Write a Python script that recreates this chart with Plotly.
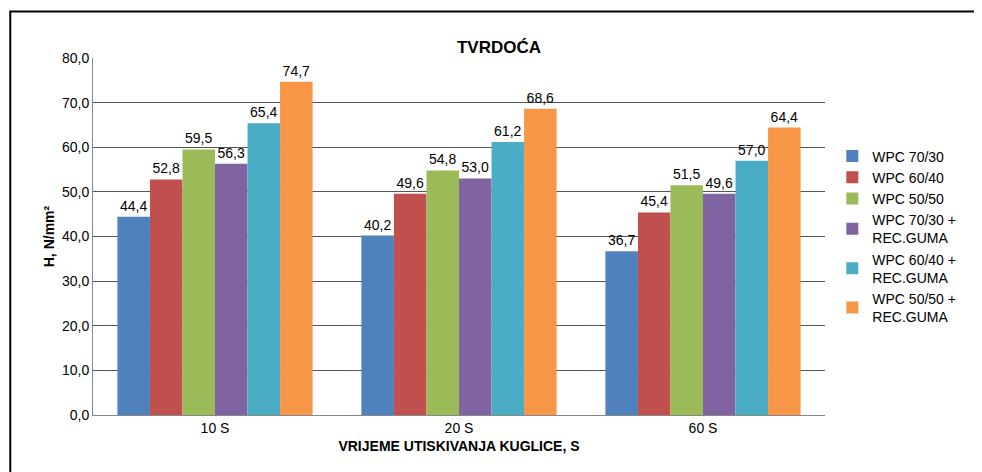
import plotly.graph_objects as go

categories = ["10 S", "20 S", "60 S"]
series_names = ["WPC 70/30", "WPC 60/40", "WPC 50/50",
                "WPC 70/30 +<br>REC.GUMA", "WPC 60/40 +<br>REC.GUMA", "WPC 50/50 +<br>REC.GUMA"]
values = [
    [44.4, 40.2, 36.7],
    [52.8, 49.6, 45.4],
    [59.5, 54.8, 51.5],
    [56.3, 53.0, 49.6],
    [65.4, 61.2, 57.0],
    [74.7, 68.6, 64.4],
]
colors = ["#4F81BD", "#C0504D", "#9BBB59", "#8064A2", "#4BACC6", "#F79646"]
tick_vals = [0, 10, 20, 30, 40, 50, 60, 70, 80]

fig = go.Figure()
for name, vals, c in zip(series_names, values, colors):
    fig.add_trace(go.Bar(
        x=categories, y=vals, name=name, marker=dict(color=c, line=dict(width=0)),
        texttemplate="%{y:.1f}", textposition="outside",
        textfont=dict(family="Liberation Sans", size=14, color="black"),
        cliponaxis=False,
    ))

fig.update_layout(
    width=982, height=472, separators=",.",
    paper_bgcolor="white", plot_bgcolor="white",
    font=dict(family="Liberation Sans", size=13, color="black"),
    title=dict(text="<b>TVRDOĆA</b>", x=0.5, xanchor="center", y=0.93, font=dict(size=17)),
    barmode="group", bargap=0.2, bargroupgap=0.0,
    margin=dict(l=85, r=165, t=50, b=65),
    legend=dict(x=1.01, y=0.5, yanchor="middle", font=dict(size=14), tracegroupgap=20),
    showlegend=True,
    xaxis=dict(showline=True, linecolor="#888", tickfont=dict(size=14),
               title=dict(text="<b>VRIJEME UTISKIVANJA KUGLICE, S</b>", font=dict(size=14), standoff=6)),
    yaxis=dict(range=[0, 80], tickvals=tick_vals, tickformat=".1f",
               showgrid=True, gridcolor="#555", gridwidth=1, showline=True, linecolor="#888",
               tickfont=dict(size=14),
               title=dict(text="<b>H, N/mm²</b>", font=dict(size=14), standoff=4)),
    shapes=[dict(type="rect", xref="paper", yref="paper",
                 x0=-0.113, y0=-0.174, x1=1.222, y1=1.13,
                 line=dict(color="black", width=2))],
)
fig.write_html("out.html")
